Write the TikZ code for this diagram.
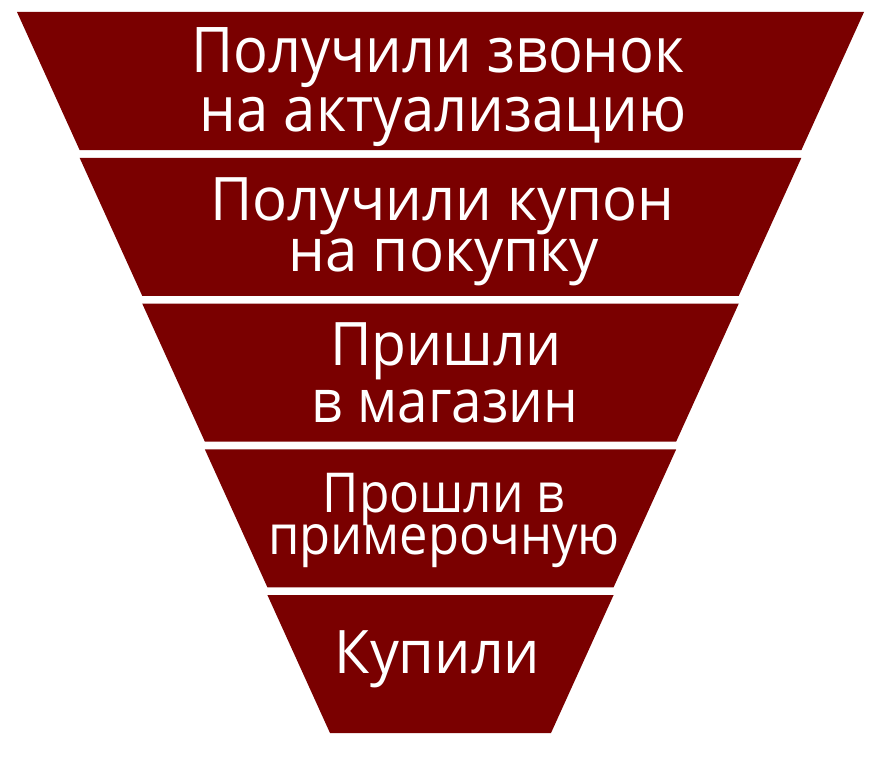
\documentclass[tikz,border=0pt]{standalone}
\usepackage{fontspec}
\setmainfont{Open Sans}
\definecolor{funnelred}{RGB}{122,0,0}
\begin{document}
\begin{tikzpicture}[x=1pt,y=-1pt,
  band/.style={fill=funnelred},
  lbl/.style={text=white, anchor=base, inner sep=0pt, text depth=0pt,
    font=\fontsize{#1}{#1}\selectfont},
]
\useasboundingbox (0,0) rectangle (893,760);
\fill[white] (0,0) rectangle (893,760);
\foreach \k in {0,...,4}{
  \pgfmathsetmacro{\yt}{12+145.75*\k}
  \pgfmathsetmacro{\yb}{\yt+138}
  \pgfmathsetmacro{\xlt}{17+62.6*\k}
  \pgfmathsetmacro{\xlb}{17+62.6*(\k+1)}
  \pgfmathsetmacro{\xrt}{864-62.6*\k}
  \pgfmathsetmacro{\xrb}{864-62.6*(\k+1)}
  \fill[band] (\xlt,\yt) -- (\xrt,\yt) -- (\xrb,\yb) -- (\xlb,\yb) -- cycle;
}
\node[lbl=63, xscale=0.918] (t1a) at (438,72) {Получили звонок};
\node[lbl=63, xscale=0.921] (t1b) at (443,131) {на актуализацию};
\node[lbl=60, xscale=0.968] (t2a) at (442.5,220) {Получили купон};
\node[lbl=60, xscale=0.969] (t2b) at (444,271) {на покупку};
\node[lbl=60, xscale=0.95] (t3a) at (446,365) {Пришли};
\node[lbl=60, xscale=0.914] (t3b) at (445,422) {в магазин};
\node[lbl=55, xscale=0.905] (t4a) at (444,512) {Прошли в};
\node[lbl=55, xscale=0.921] (t4b) at (444,554) {примерочную};
\node[lbl=60, xscale=0.957] (t5) at (437.5,673) {Купили};
\end{tikzpicture}
\end{document}
